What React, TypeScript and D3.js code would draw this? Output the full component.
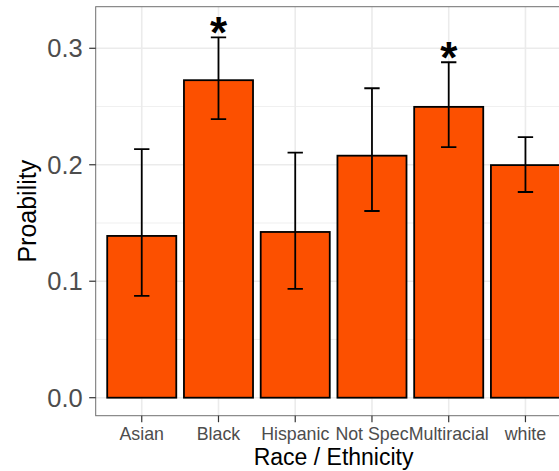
import * as d3 from "d3";

const categories = ["Asian", "Black", "Hispanic", "Not Spec", "Multiracial", "white"];
const probability = [0.1389, 0.2726, 0.1423, 0.2078, 0.2497, 0.1997];
const lower = [0.0874, 0.2391, 0.0934, 0.1603, 0.2151, 0.1766];
const upper = [0.2134, 0.3094, 0.2104, 0.2657, 0.2880, 0.2237];
const significant = [false, true, false, false, true, false];
const yTicks = [0, 0.1, 0.2, 0.3];
const yMinor = [0.05, 0.15, 0.25];

const W = 559;
const H = 471;
const margin = { top: 6.7, left: 95.7, bottom: 415.7, right: 571.5 };

const App = () => {
  const x = d3.scaleBand<string>()
    .domain(categories)
    .range([margin.left, margin.right])
    .paddingInner(0)
    .paddingOuter(0.1);

  const y = d3.scaleLinear()
    .domain([-0.01545, 0.3357])
    .range([margin.bottom, margin.top]);

  const step = x.bandwidth();
  const barW = step * 0.9;
  const capW = step * 0.2;
  const cx = (c: string) => (x(c) as number) + step / 2;
  const font = "Liberation Sans, Arial, sans-serif";

  return (
    <svg width={W} height={H} style={{ position: "absolute", left: 0, top: 0, background: "#fff" }} fontFamily={font}>
      <defs>
        <clipPath id="panel">
          <rect x={margin.left} y={margin.top} width={margin.right - margin.left} height={margin.bottom - margin.top} />
        </clipPath>
      </defs>
      <rect x={margin.left} y={margin.top} width={margin.right - margin.left} height={margin.bottom - margin.top} fill="#fff" />
      <g clipPath="url(#panel)">
        {yMinor.map(t => (
          <line key={"mn" + t} x1={margin.left} x2={margin.right} y1={y(t)} y2={y(t)} stroke="#EBEBEB" strokeWidth={0.8} />
        ))}
        {yTicks.map(t => (
          <line key={"mj" + t} x1={margin.left} x2={margin.right} y1={y(t)} y2={y(t)} stroke="#EBEBEB" strokeWidth={1.6} />
        ))}
        {categories.map(c => (
          <line key={"vg" + c} x1={cx(c)} x2={cx(c)} y1={margin.top} y2={margin.bottom} stroke="#EBEBEB" strokeWidth={1.6} />
        ))}
        {categories.map((c, i) => (
          <rect key={"bar" + c} x={cx(c) - barW / 2} y={y(probability[i])} width={barW}
            height={y(0) - y(probability[i])} fill="#FC5000" stroke="#000" strokeWidth={1.8} />
        ))}
        {categories.map((c, i) => (
          <g key={"err" + c} stroke="#000" strokeWidth={1.8}>
            <line x1={cx(c)} x2={cx(c)} y1={y(upper[i])} y2={y(lower[i])} />
            <line x1={cx(c) - capW / 2} x2={cx(c) + capW / 2} y1={y(upper[i])} y2={y(upper[i])} />
            <line x1={cx(c) - capW / 2} x2={cx(c) + capW / 2} y1={y(lower[i])} y2={y(lower[i])} />
          </g>
        ))}
        {categories.map((c, i) => significant[i] ? (
          <text key={"star" + c} x={cx(c)} y={y(upper[i]) + 11} textAnchor="middle" fontSize={44} fontWeight={600} fill="#000">*</text>
        ) : null)}
      </g>
      <rect x={margin.left} y={margin.top} width={margin.right - margin.left} height={margin.bottom - margin.top}
        fill="none" stroke="#333" strokeWidth={1} strokeOpacity={0.7} />
      {yTicks.map(t => (
        <g key={"yt" + t}>
          <line x1={margin.left - 6.5} x2={margin.left} y1={y(t)} y2={y(t)} stroke="#333" strokeWidth={1.2} />
          <text x={margin.left - 13} y={y(t)} dy="0.36em" textAnchor="end" fontSize={25.5} fill="#4D4D4D">{d3.format(".1f")(t)}</text>
        </g>
      ))}
      {categories.map(c => (
        <g key={"xt" + c}>
          <line x1={cx(c)} x2={cx(c)} y1={margin.bottom} y2={margin.bottom + 6.5} stroke="#333" strokeWidth={1.2} />
          <text x={cx(c)} y={440} textAnchor="middle" fontSize={17.8} fill="#4D4D4D">{c}</text>
        </g>
      ))}
      <text x={(margin.left + margin.right) / 2} y={465} textAnchor="middle" fontSize={23} fill="#000">Race / Ethnicity</text>
      <text transform={`translate(36, ${(margin.top + margin.bottom) / 2}) rotate(-90)`} textAnchor="middle" fontSize={25} fill="#000">Proability</text>
    </svg>
  );
};

export default App;
